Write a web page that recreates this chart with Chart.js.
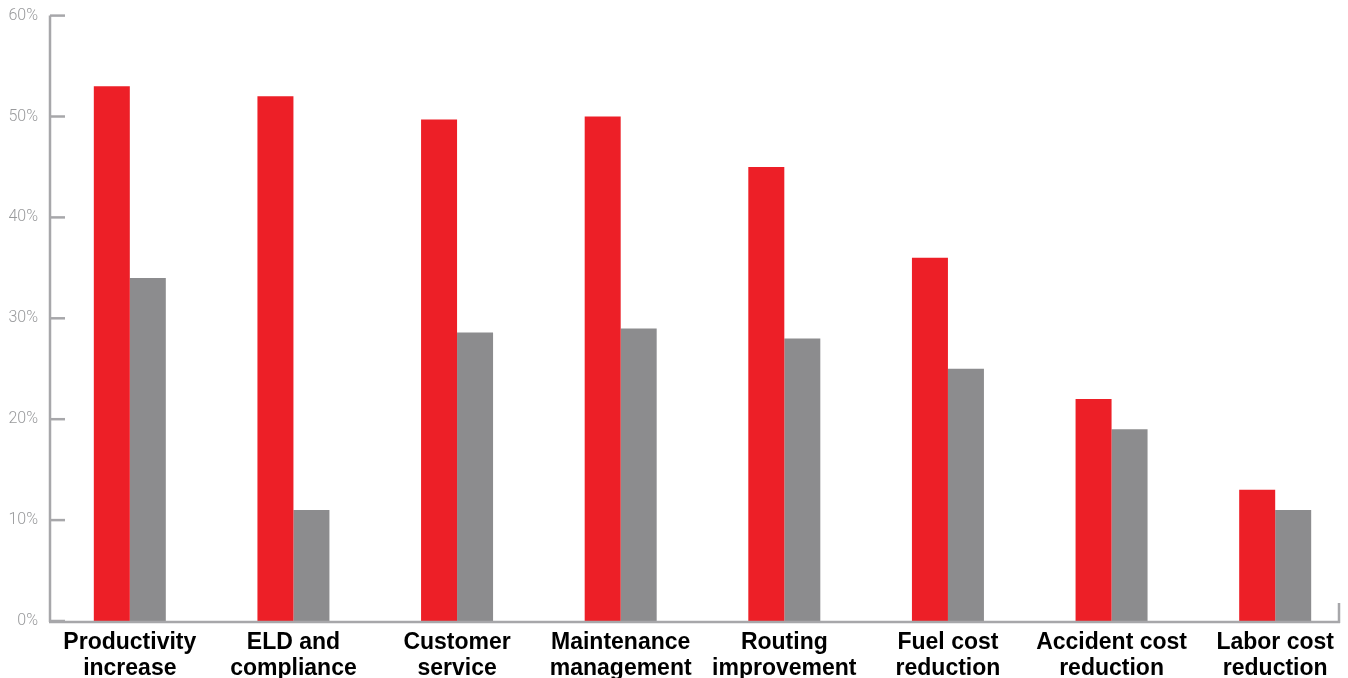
<!DOCTYPE html>
<html>
<head>
<meta charset="utf-8">
<script src="https://cdn.jsdelivr.net/npm/chart.js@4.4.1/dist/chart.umd.min.js"></script>
<style>
  html, body { margin: 0; padding: 0; background: #fff; overflow: hidden; }
  #wrap { position: absolute; left: 0; top: -4px; width: 1357px; height: 704px; }
</style>
</head>
<body>
<div id="wrap"><canvas id="chart"></canvas></div>
<script>
// categories (two-line labels)
const categories = [
    ["Productivity", "increase"],
    ["ELD and", "compliance"],
    ["Customer", "service"],
    ["Maintenance", "management"],
    ["Routing", "improvement"],
    ["Fuel cost", "reduction"],
    ["Accident cost", "reduction"],
    ["Labor cost", "reduction"]
];

// series values (%)
const redValues  = [53, 52, 49.7, 50, 45, 36, 22, 13];
const grayValues = [34, 11, 28.6, 29, 28, 25, 19, 11];

const yTicks = [0, 10, 20, 30, 40, 50, 60];

const axisColor = "#a7a7aa";

// axis lines + inward ticks, drawn by hand
const axisPlugin = {
    id: "axisLines",
    afterDraw(chart) {
        const ctx = chart.ctx;
        const area = chart.chartArea;
        const y = chart.scales.y;
        ctx.save();
        ctx.strokeStyle = axisColor;
        ctx.lineWidth = 2.5;
        ctx.lineCap = "butt";

        // y axis
        ctx.beginPath();
        ctx.moveTo(area.left + 2, area.top);
        ctx.lineTo(area.left + 2, area.bottom + 1);
        ctx.stroke();

        // y ticks pointing inward
        yTicks.forEach(v => {
            const py = y.getPixelForValue(v);
            ctx.beginPath();
            ctx.moveTo(area.left + 2, py);
            ctx.lineTo(area.left + 17, py);
            ctx.stroke();
        });

        // x axis
        ctx.beginPath();
        ctx.moveTo(area.left + 1, area.bottom + 1);
        ctx.lineTo(area.right - 17, area.bottom + 1);
        ctx.stroke();

        // little end tick
        ctx.beginPath();
        ctx.moveTo(area.right - 18, area.bottom + 2);
        ctx.lineTo(area.right - 18, area.bottom - 18);
        ctx.stroke();
        ctx.restore();
    }
};

new Chart(document.getElementById("chart").getContext("2d"), {
    type: "bar",
    data: {
        labels: categories,
        datasets: [
            {
                label: "Series 1",
                data: redValues,
                backgroundColor: "#ed1f27",
                borderWidth: 0
            },
            {
                label: "Series 2",
                data: grayValues,
                backgroundColor: "#8c8c8e",
                borderWidth: 0
            }
        ]
    },
    options: {
        responsive: true,
        maintainAspectRatio: false,
        animation: false,
        layout: { padding: { top: 11, left: 0, right: 0, bottom: 0 } },
        plugins: {
            legend: { display: false },
            tooltip: { enabled: false }
        },
        datasets: {
            bar: { categoryPercentage: 0.44, barPercentage: 1.0 }
        },
        scales: {
            x: {
                grid: { display: false, drawTicks: false },
                border: { display: false },
                ticks: {
                    color: "#000",
                    padding: 8,
                    maxRotation: 0,
                    autoSkip: false,
                    font: { family: "'Liberation Sans', Arial, sans-serif", size: 23, weight: "bold", lineHeight: 1.15 }
                },
                afterFit(scale) { scale.height = 704 - 625; }
            },
            y: {
                min: 0,
                max: 60,
                grid: { display: false, drawTicks: false },
                border: { display: false },
                ticks: {
                    stepSize: 10,
                    color: "#999a9c",
                    padding: 10,
                    font: { family: "Roboto, 'Liberation Sans', sans-serif", size: 16, weight: 300 },
                    callback: v => v + "%"
                },
                afterFit(scale) { scale.width = 48; }
            }
        }
    },
    plugins: [axisPlugin]
});
</script>
</body>
</html>
